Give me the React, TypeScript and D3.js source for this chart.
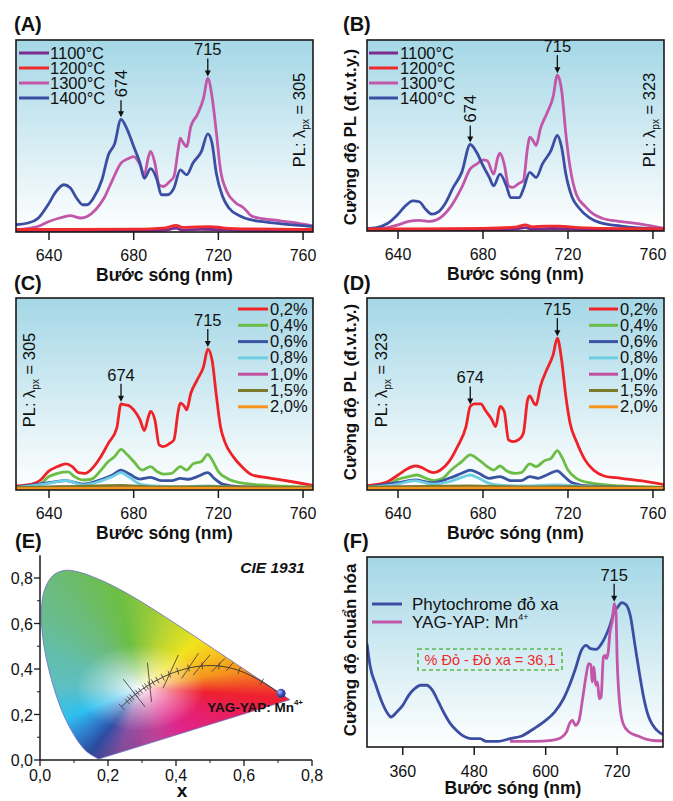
import React, { useMemo } from "react";
import * as d3 from "d3";

const FONT = "'Liberation Sans', Arial, Helvetica, sans-serif";

// ---------------- (A)/(B): annealing temperature series ----------------
const tempNames = ["1100°C", "1200°C", "1300°C", "1400°C"];
const tempColors = ["#7d2a8e", "#ef2b2d", "#c256a9", "#3b4ea3"];

const a1100 = [[624,0.006],[650,0.006],[680,0.007],[695,0.01],[700,0.02],[703,0.01],[712,0.014],[718,0.013],[730,0.008],[766,0.006]];
const a1200 = [[624,0.013],[650,0.013],[680,0.015],[695,0.022],[700,0.035],[703,0.024],[710,0.027],[716,0.028],[722,0.022],[735,0.016],[766,0.013]];
const a1300 = [[624,0.012],[635,0.03],[640,0.055],[645,0.073],[650,0.085],[655,0.073],[658,0.081],[662,0.116],[666,0.177],[670,0.272],[674,0.359],[677,0.38],[680,0.393],[683,0.35],[685,0.298],[687,0.393],[688,0.42],[690,0.359],[692,0.246],[694,0.237],[697,0.263],[699,0.289],[701,0.428],[702,0.489],[703,0.471],[705,0.445],[707,0.55],[710,0.61],[713,0.697],[715,0.8],[717,0.705],[719,0.523],[721,0.324],[724,0.211],[728,0.154],[732,0.125],[736,0.081],[745,0.064],[755,0.05],[766,0.029]];
const a1400 = [[624,0.038],[630,0.047],[635,0.073],[640,0.15],[643,0.206],[647,0.246],[650,0.23],[653,0.177],[656,0.142],[658,0.142],[661,0.177],[665,0.272],[668,0.4],[671,0.46],[674,0.587],[677,0.532],[680,0.445],[683,0.359],[685,0.28],[688,0.33],[691,0.272],[693,0.194],[696,0.194],[699,0.229],[702,0.324],[705,0.298],[708,0.359],[712,0.42],[715,0.511],[717,0.463],[719,0.307],[722,0.185],[725,0.125],[730,0.085],[735,0.064],[740,0.055],[750,0.042],[760,0.033],[766,0.026]];

const b1100 = [[624,0.004],[650,0.004],[680,0.006],[695,0.01],[700,0.018],[703,0.01],[712,0.013],[718,0.012],[730,0.007],[766,0.005]];
const b1200 = [[624,0.011],[650,0.011],[680,0.014],[695,0.02],[700,0.032],[703,0.022],[710,0.026],[716,0.026],[722,0.02],[735,0.014],[766,0.011]];
const b1300 = [[624,0.004],[635,0.018],[640,0.032],[645,0.05],[650,0.056],[655,0.05],[660,0.07],[665,0.13],[670,0.228],[674,0.325],[677,0.35],[680,0.372],[682,0.368],[685,0.298],[687,0.386],[688,0.407],[690,0.35],[692,0.237],[694,0.228],[697,0.25],[699,0.263],[701,0.439],[702,0.491],[704,0.465],[705,0.447],[707,0.535],[710,0.614],[713,0.702],[715,0.816],[717,0.737],[719,0.509],[721,0.333],[724,0.19],[728,0.13],[732,0.088],[736,0.067],[745,0.049],[755,0.035],[766,0.012]];
const b1400 = [[624,0.012],[630,0.018],[635,0.039],[640,0.088],[643,0.126],[647,0.158],[650,0.153],[653,0.114],[656,0.088],[659,0.1],[662,0.14],[666,0.228],[670,0.307],[674,0.453],[677,0.412],[680,0.342],[683,0.28],[685,0.237],[688,0.298],[691,0.237],[693,0.175],[697,0.175],[699,0.219],[702,0.307],[705,0.28],[708,0.351],[712,0.421],[715,0.5],[717,0.439],[719,0.298],[722,0.175],[725,0.123],[730,0.07],[735,0.044],[745,0.026],[766,0.01]];

// ---------------- (C)/(D): Mn concentration series ----------------
const pctNames = ["0,2%", "0,4%", "0,6%", "0,8%", "1,0%", "1,5%", "2,0%"];
const pctColors = ["#ee2227", "#6cbd45", "#3a54a4", "#6dcde2", "#c14fa0", "#7c7a2c", "#f7941e"];

const c02 = [[624,0.021],[632,0.031],[636,0.052],[640,0.1],[644,0.122],[648,0.136],[651,0.122],[654,0.09],[657,0.087],[660,0.108],[664,0.165],[668,0.243],[672,0.322],[674,0.449],[676,0.443],[678,0.438],[680,0.417],[683,0.365],[685,0.31],[687,0.383],[688,0.409],[690,0.365],[692,0.235],[694,0.226],[697,0.243],[699,0.261],[701,0.409],[702,0.452],[704,0.435],[705,0.417],[707,0.504],[710,0.574],[713,0.643],[715,0.734],[717,0.678],[719,0.496],[721,0.33],[723,0.252],[727,0.174],[731,0.122],[736,0.078],[745,0.061],[755,0.043],[766,0.021]];
const c04 = [[624,0.014],[635,0.026],[640,0.07],[644,0.087],[649,0.094],[652,0.07],[656,0.052],[660,0.056],[664,0.096],[668,0.148],[671,0.174],[674,0.212],[677,0.183],[680,0.148],[684,0.104],[688,0.122],[691,0.096],[694,0.083],[698,0.087],[702,0.122],[705,0.104],[708,0.136],[712,0.148],[715,0.186],[717,0.157],[720,0.096],[724,0.061],[730,0.038],[740,0.026],[766,0.014]];
const c06 = [[624,0.014],[640,0.038],[648,0.049],[656,0.031],[664,0.052],[670,0.078],[674,0.104],[678,0.083],[683,0.057],[688,0.066],[693,0.049],[698,0.049],[702,0.061],[706,0.056],[710,0.07],[715,0.09],[718,0.061],[722,0.031],[730,0.017],[766,0.011]];
const c08 = [[624,0.012],[640,0.035],[648,0.049],[656,0.026],[664,0.045],[670,0.07],[674,0.09],[678,0.066],[683,0.031],[690,0.021],[700,0.017],[715,0.021],[730,0.012],[766,0.011]];
const c10 = [[624,0.01],[640,0.014],[648,0.018],[656,0.013],[666,0.016],[674,0.02],[684,0.013],[700,0.012],[715,0.014],[730,0.01],[766,0.009]];
const c15 = [[624,0.013],[648,0.018],[674,0.024],[690,0.016],[715,0.017],[766,0.012]];
const c20 = [[624,0.007],[674,0.009],[715,0.008],[766,0.007]];

const d02 = [[624,0.021],[635,0.043],[640,0.078],[644,0.108],[648,0.125],[651,0.118],[654,0.1],[657,0.09],[660,0.104],[664,0.148],[668,0.226],[672,0.33],[674,0.435],[676,0.449],[679,0.449],[681,0.417],[684,0.37],[686,0.33],[688,0.435],[690,0.409],[692,0.261],[694,0.252],[697,0.264],[699,0.296],[701,0.47],[702,0.49],[704,0.452],[705,0.443],[707,0.539],[710,0.626],[713,0.704],[715,0.791],[717,0.678],[719,0.487],[721,0.348],[724,0.252],[728,0.157],[732,0.104],[737,0.073],[745,0.061],[755,0.047],[766,0.026]];
const d04 = [[624,0.014],[635,0.026],[640,0.056],[645,0.07],[649,0.078],[653,0.061],[657,0.049],[661,0.061],[665,0.104],[670,0.148],[674,0.183],[678,0.157],[682,0.122],[685,0.104],[688,0.125],[691,0.1],[695,0.087],[698,0.09],[702,0.136],[705,0.122],[709,0.153],[712,0.165],[715,0.205],[717,0.174],[720,0.104],[724,0.061],[730,0.038],[745,0.021],[766,0.014]];
const d06 = [[624,0.014],[640,0.038],[648,0.052],[656,0.038],[664,0.061],[670,0.087],[674,0.104],[678,0.087],[683,0.061],[688,0.07],[693,0.049],[698,0.049],[702,0.07],[706,0.061],[710,0.078],[715,0.1],[718,0.073],[722,0.038],[730,0.021],[766,0.011]];
const d08 = [[624,0.012],[640,0.031],[648,0.049],[656,0.031],[664,0.043],[670,0.066],[674,0.078],[678,0.061],[683,0.035],[690,0.024],[700,0.021],[715,0.026],[730,0.017],[766,0.012]];
const d10 = [[624,0.011],[648,0.017],[674,0.019],[700,0.013],[715,0.015],[766,0.01]];
const d15 = [[624,0.014],[648,0.018],[674,0.022],[700,0.016],[715,0.017],[766,0.013]];
const d20 = [[624,0.008],[674,0.009],[715,0.009],[766,0.008]];

const specTicks = [640, 680, 720, 760];

// ---------------- (E): CIE 1931 ----------------
const spectralLocus = [
  [0.1741,0.005],[0.1733,0.0048],[0.1726,0.0048],[0.1714,0.0051],[0.1689,0.0069],[0.1644,0.0109],[0.1566,0.0177],[0.144,0.0297],[0.1355,0.0399],[0.1241,0.0578],[0.1096,0.0868],[0.0913,0.1327],[0.0687,0.2007],[0.0454,0.295],[0.0235,0.4127],[0.0082,0.5384],[0.0039,0.6548],[0.0139,0.7502],[0.0389,0.812],[0.0743,0.8338],[0.1142,0.8262],[0.1547,0.8059],[0.1929,0.7816],[0.2296,0.7543],[0.2658,0.7243],[0.3016,0.6923],[0.3373,0.6589],[0.3731,0.6245],[0.4087,0.5896],[0.4441,0.5547],[0.4788,0.5202],[0.5125,0.4866],[0.5448,0.4544],[0.5752,0.4242],[0.6029,0.3965],[0.627,0.3725],[0.6482,0.3514],[0.6658,0.334],[0.6915,0.3083],[0.7079,0.292],[0.719,0.2809],[0.726,0.274],[0.73,0.27],[0.7334,0.2666],[0.7347,0.2653]
];
const planckLocus = [
  [0.2399,0.2342],[0.2564,0.2576],[0.2637,0.2673],[0.2702,0.2758],[0.2807,0.2883],[0.2869,0.2956],[0.2952,0.3048],[0.3064,0.3166],[0.3135,0.3237],[0.3221,0.3318],[0.3324,0.3410],[0.3451,0.3516],[0.3608,0.3636],[0.3805,0.3768],[0.4053,0.3907],[0.4369,0.4041],[0.477,0.4137],[0.5267,0.4133],[0.5857,0.3931],[0.6528,0.3444],[0.7,0.298]
];
const isotherms = [
  [[0.245,0.355],[0.309,0.234]],
  [[0.316,0.428],[0.328,0.256]],
  [[0.362,0.316],[0.407,0.462]],
  [[0.417,0.359],[0.466,0.469]],
  [[0.451,0.374],[0.5,0.462]],
  [[0.505,0.388],[0.544,0.447]],
  [[0.548,0.392],[0.568,0.428]],
];
const samplePoint = [0.709, 0.293];
const sampleName = "YAG-YAP: Mn";
const cieXTicks = [0, 0.2, 0.4, 0.6, 0.8];
const cieYTicks = [0, 0.2, 0.4, 0.6, 0.8];
const cieMinor = [0.1, 0.3, 0.5, 0.7];
// colour wheel of the printed diagram: hue angle (deg, around the white point) -> colour
const whitePoint = [0.295, 0.318];
const hueAngles = [-6, 14, 35, 51, 75, 99, 117, 150, 180, 212, 232, 243, 258, 285, 303, 335, 354];
const hueColors = ["#ee2030", "#f5921e", "#f7c51f", "#f0e41e", "#b8d432", "#6cbf44", "#6cbb78", "#62beac", "#5ebfc4", "#2ec0f0", "#2f78c8", "#2c4fa5", "#8a4fa3", "#c24096", "#e0268c", "#e81e62", "#ee2030"];

// ---------------- (F): phytochrome vs phosphor ----------------
const phytochrome = [[300,0.544],[305,0.43],[315,0.325],[325,0.237],[335,0.175],[340,0.158],[350,0.184],[360,0.219],[370,0.272],[380,0.307],[390,0.325],[400,0.325],[410,0.298],[420,0.237],[430,0.175],[440,0.123],[450,0.088],[460,0.061],[470,0.047],[480,0.044],[490,0.044],[500,0.03],[520,0.03],[540,0.044],[560,0.058],[580,0.096],[600,0.14],[615,0.184],[630,0.254],[640,0.325],[650,0.412],[660,0.509],[668,0.535],[675,0.518],[685,0.514],[692,0.535],[700,0.579],[708,0.64],[715,0.711],[720,0.732],[728,0.76],[735,0.749],[742,0.693],[750,0.535],[758,0.377],[765,0.254],[772,0.167],[780,0.114],[790,0.079],[798,0.065]];
const yagyap = [[540,0.03],[580,0.03],[610,0.035],[625,0.047],[635,0.079],[640,0.123],[645,0.14],[650,0.114],[656,0.14],[662,0.254],[668,0.377],[672,0.439],[676,0.433],[678,0.342],[681,0.421],[684,0.325],[687,0.342],[690,0.254],[693,0.263],[697,0.474],[700,0.482],[702,0.465],[705,0.5],[708,0.605],[712,0.667],[715,0.754],[718,0.711],[720,0.465],[724,0.237],[730,0.123],[740,0.079],[755,0.058],[770,0.04],[785,0.033],[798,0.033]];
const fNames = ["Phytochrome đỏ xa", "YAG-YAP: Mn"];
const fColors = ["#3b4ea3", "#c256a9"];
const fTicks = [360, 480, 600, 720];
const ratioText = "% Đỏ - Đỏ xa = 36,1";

// ---------------------------------------------------------------
type Series = { name: string; color: string; data: number[][] };

function valueAt(data: number[][], wl: number) {
  const i = d3.bisector((d: number[]) => d[0]).left(data, wl);
  if (i <= 0) return data[0][1];
  if (i >= data.length) return data[data.length - 1][1];
  const a = data[i - 1], b = data[i];
  return a[1] + ((wl - a[0]) / (b[0] - a[0])) * (b[1] - a[1]);
}

function ArrowDown({ x, y1, y2 }: { x: number; y1: number; y2: number }) {
  return (
    <g>
      <line x1={x} x2={x} y1={y1} y2={y2 - 5} stroke="#111" strokeWidth={1.3} />
      <path d={`M${x - 3},${y2 - 6} L${x + 3},${y2 - 6} L${x},${y2} Z`} fill="#111" />
    </g>
  );
}

function PLLabel({ x, y, value }: { x: number; y: number; value: string }) {
  return (
    <text transform={`translate(${x},${y}) rotate(-90)`} textAnchor="middle" fontSize={16.5} fontFamily={FONT} fill="#111">
      PL: λ<tspan fontSize={10} dy={4}>px</tspan>
      <tspan dy={-4}> = {value}</tspan>
    </text>
  );
}

function YTitle({ x, y, text }: { x: number; y: number; text: string }) {
  return (
    <text transform={`translate(${x},${y}) rotate(-90)`} textAnchor="middle" fontSize={17} fontWeight="bold" fontFamily={FONT} fill="#111">
      {text}
    </text>
  );
}

interface PanelProps {
  id: string;
  left: number; top: number; right: number; bottom: number;
  domain: [number, number];
  ticks: number[];
  series: Series[];
  order: number[];
  legend: { x1: number; x2: number; tx: number; y0: number; dy: number };
  annots: { wl: number; s: number; text: string; rotated?: boolean }[];
  pl: { x: number; y: number; value: string };
  yTitle?: { x: number; y: number; text: string };
  label: { x: number; y: number; text: string };
}

function SpecPanel(p: PanelProps) {
  const xs = d3.scaleLinear().domain(p.domain).range([p.left, p.right]);
  const ys = d3.scaleLinear().domain([0, 1]).range([p.bottom, p.top]);
  const line = d3.line<number[]>().x(d => xs(d[0])).y(d => ys(d[1])).curve(d3.curveMonotoneX);
  const cx = (p.left + p.right) / 2;
  return (
    <g>
      <defs>
        <clipPath id={`clip-${p.id}`}>
          <rect x={p.left} y={p.top} width={p.right - p.left} height={p.bottom - p.top} />
        </clipPath>
      </defs>
      <rect x={p.left} y={p.top} width={p.right - p.left} height={p.bottom - p.top} fill="url(#bgGrad)" />
      <g clipPath={`url(#clip-${p.id})`}>
        {p.order.map(i => (
          <path key={i} d={line(p.series[i].data) || ""} fill="none" stroke={p.series[i].color} strokeWidth={2.8} strokeLinejoin="round" />
        ))}
      </g>
      <rect x={p.left} y={p.top} width={p.right - p.left} height={p.bottom - p.top} fill="none" stroke="#1a1a1a" strokeWidth={1.6} />
      {p.ticks.map(t => (
        <g key={t}>
          <line x1={xs(t)} x2={xs(t)} y1={p.bottom} y2={p.bottom + 8} stroke="#1a1a1a" strokeWidth={1.5} />
          <text x={xs(t)} y={p.bottom + 29} textAnchor="middle" fontSize={16} fontFamily={FONT} fill="#111">{t}</text>
        </g>
      ))}
      <text x={cx} y={p.bottom + 49} textAnchor="middle" fontSize={17.5} fontWeight="bold" fontFamily={FONT} fill="#111">Bước sóng (nm)</text>
      {p.series.map((s, i) => {
        const y = p.legend.y0 + i * p.legend.dy;
        return (
          <g key={s.name}>
            <line x1={p.legend.x1} x2={p.legend.x2} y1={y} y2={y} stroke={s.color} strokeWidth={3} />
            <text x={p.legend.tx} y={y + 5.5} fontSize={16.5} fontFamily={FONT} fill="#111">{s.name}</text>
          </g>
        );
      })}
      {p.annots.map(a => {
        const x = xs(a.wl);
        const tip = ys(valueAt(p.series[a.s].data, a.wl)) - 2;
        if (a.rotated) {
          return (
            <g key={a.text}>
              <ArrowDown x={x} y1={tip - 17} y2={tip} />
              <text transform={`translate(${x + 6},${tip - 20}) rotate(-90)`} fontSize={16.5} fontFamily={FONT} fill="#111">{a.text}</text>
            </g>
          );
        }
        return (
          <g key={a.text}>
            <ArrowDown x={x} y1={tip - 18} y2={tip} />
            <text x={x} y={tip - 21} textAnchor="middle" fontSize={16.5} fontFamily={FONT} fill="#111">{a.text}</text>
          </g>
        );
      })}
      <PLLabel x={p.pl.x} y={p.pl.y} value={p.pl.value} />
      {p.yTitle && <YTitle x={p.yTitle.x} y={p.yTitle.y} text={p.yTitle.text} />}
      <text x={p.label.x} y={p.label.y} fontSize={20} fontWeight="bold" fontFamily={FONT} fill="#111">{p.label.text}</text>
    </g>
  );
}

const hueScale = d3.scaleLinear<string>().domain(hueAngles).range(hueColors).interpolate(d3.interpolateRgb).clamp(true);

function diagramColor(x: number, y: number): [number, number, number] {
  const dx = x - whitePoint[0], dy = y - whitePoint[1];
  let ang = (Math.atan2(dy, dx) * 180) / Math.PI;
  if (ang < -6) ang += 360;
  const c = d3.rgb(hueScale(ang));
  const dist = Math.hypot(dx, dy);
  const t = Math.pow(Math.min(1, dist / 0.19), 0.8);
  const dark = y < 0.12 && x < 0.3 ? 1 - (0.12 - y) * 0.8 : 1;
  return [
    (255 + (c.r - 255) * t) * dark,
    (255 + (c.g - 255) * t) * dark,
    (255 + (c.b - 255) * t) * dark,
  ];
}

function CIEPanel() {
  const ex = d3.scaleLinear().domain([0, 0.8]).range([40, 312]);
  const ey = d3.scaleLinear().domain([0, 0.8]).range([760, 578]);
  const imgBox = { x0: ex(0), x1: ex(0.76), y0: ey(0.86), y1: ey(0) };
  const href = useMemo(() => {
    const scale = 2;
    const w = Math.round((imgBox.x1 - imgBox.x0) * scale);
    const h = Math.round((imgBox.y1 - imgBox.y0) * scale);
    const canvas = document.createElement("canvas");
    canvas.width = w; canvas.height = h;
    const ctx = canvas.getContext("2d");
    if (!ctx) return "";
    const img = ctx.createImageData(w, h);
    for (let j = 0; j < h; j++) {
      const yv = ey.invert(imgBox.y0 + (j + 0.5) / scale);
      for (let i = 0; i < w; i++) {
        const xv = ex.invert(imgBox.x0 + (i + 0.5) / scale);
        const k = (j * w + i) * 4;
        const [r, g, b] = diagramColor(xv, yv);
        img.data[k] = r; img.data[k + 1] = g; img.data[k + 2] = b; img.data[k + 3] = 255;
      }
    }
    ctx.putImageData(img, 0, 0);
    return canvas.toDataURL();
  }, []);
  const locusPath = (d3.line<number[]>().x(d => ex(d[0])).y(d => ey(d[1])).curve(d3.curveCatmullRom)(spectralLocus) || "") + "Z";
  const planckPath = d3.line<number[]>().x(d => ex(d[0])).y(d => ey(d[1])).curve(d3.curveCatmullRom)(planckLocus) || "";
  const ticksShort = planckLocus.map((pt, i) => {
    if (i === planckLocus.length - 1) return null;
    const a = planckLocus[Math.max(i - 1, 0)], b = planckLocus[Math.min(i + 1, planckLocus.length - 1)];
    const dx = ex(b[0]) - ex(a[0]), dy = ey(b[1]) - ey(a[1]);
    const len = Math.hypot(dx, dy) || 1;
    const nx = -dy / len, ny = dx / len;
    const hl = i === 0 ? 4 : 3.5;
    const px = ex(pt[0]), py = ey(pt[1]);
    return <line key={i} x1={px - nx * hl} y1={py - ny * hl} x2={px + nx * hl} y2={py + ny * hl} stroke="#333" strokeWidth={0.8} />;
  });
  return (
    <g>
      <defs>
        <clipPath id="locusClip"><path d={locusPath} /></clipPath>
        <radialGradient id="dotGrad" cx="0.35" cy="0.35" r="0.7">
          <stop offset="0" stopColor="#b8c4ff" />
          <stop offset="0.5" stopColor="#3f55c0" />
          <stop offset="1" stopColor="#1d2a80" />
        </radialGradient>
      </defs>
      {href && (
        <image href={href} x={imgBox.x0} y={imgBox.y0} width={imgBox.x1 - imgBox.x0} height={imgBox.y1 - imgBox.y0} preserveAspectRatio="none" clipPath="url(#locusClip)" />
      )}
      <path d={locusPath} fill="none" stroke="#6c6cc0" strokeWidth={0.8} />
      <path d={planckPath} fill="none" stroke="#333" strokeWidth={0.9} />
      {ticksShort}
      {isotherms.map((s, i) => (
        <line key={i} x1={ex(s[0][0])} y1={ey(s[0][1])} x2={ex(s[1][0])} y2={ey(s[1][1])} stroke="#333" strokeWidth={0.8} />
      ))}
      <circle cx={ex(samplePoint[0])} cy={ey(samplePoint[1])} r={4.5} fill="url(#dotGrad)" />
      <text x={ex(samplePoint[0]) + 22} y={ey(samplePoint[1]) + 19} textAnchor="end" fontSize={13.5} fontWeight="bold" fontFamily={FONT} fill="#111">
        {sampleName}<tspan fontSize={8} dy={-7}>4+</tspan>
      </text>
      <text x={305} y={573} textAnchor="end" fontSize={15.5} fontWeight="bold" fontStyle="italic" fontFamily={FONT} fill="#111">CIE 1931</text>
      <line x1={ex(0)} x2={ex(0)} y1={ey(0.9)} y2={ey(0)} stroke="#1a1a1a" strokeWidth={1.5} />
      <line x1={ex(0)} x2={ex(0.8)} y1={ey(0)} y2={ey(0)} stroke="#1a1a1a" strokeWidth={1.5} />
      {cieXTicks.map(t => (
        <g key={"x" + t}>
          <line x1={ex(t)} x2={ex(t)} y1={ey(0)} y2={ey(0) + 6} stroke="#1a1a1a" strokeWidth={1.3} />
          <text x={ex(t)} y={781} textAnchor="middle" fontSize={16} fontFamily={FONT} fill="#111">{t.toFixed(1).replace(".", ",")}</text>
        </g>
      ))}
      {cieYTicks.map(t => (
        <g key={"y" + t}>
          <line x1={ex(0) - 6} x2={ex(0)} y1={ey(t)} y2={ey(t)} stroke="#1a1a1a" strokeWidth={1.3} />
          <text x={33} y={ey(t) + 6} textAnchor="end" fontSize={16} fontFamily={FONT} fill="#111">{t.toFixed(1).replace(".", ",")}</text>
        </g>
      ))}
      {cieMinor.map(t => (
        <g key={"m" + t}>
          <line x1={ex(t)} x2={ex(t)} y1={ey(0)} y2={ey(0) + 3} stroke="#1a1a1a" strokeWidth={1} />
          <line x1={ex(0) - 3} x2={ex(0)} y1={ey(t)} y2={ey(t)} stroke="#1a1a1a" strokeWidth={1} />
        </g>
      ))}
      <text x={182} y={797} textAnchor="middle" fontSize={19} fontWeight="bold" fontFamily={FONT} fill="#111">x</text>
      <text x={15} y={548} fontSize={20} fontWeight="bold" fontFamily={FONT} fill="#111">(E)</text>
    </g>
  );
}

function FPanel() {
  const left = 367, right = 663, top = 557, bottom = 747;
  const xs = d3.scaleLinear().domain([300, 797]).range([left, right]);
  const ys = d3.scaleLinear().domain([0, 1]).range([bottom, top]);
  const line = d3.line<number[]>().x(d => xs(d[0])).y(d => ys(d[1])).curve(d3.curveMonotoneX);
  const series = [phytochrome, yagyap];
  const tip = ys(valueAt(yagyap, 715)) - 2;
  return (
    <g>
      <defs>
        <clipPath id="clip-F"><rect x={left} y={top} width={right - left} height={bottom - top} /></clipPath>
      </defs>
      <rect x={left} y={top} width={right - left} height={bottom - top} fill="url(#bgGrad)" />
      <g clipPath="url(#clip-F)">
        {series.map((s, i) => (
          <path key={i} d={line(s) || ""} fill="none" stroke={fColors[i]} strokeWidth={2.8} strokeLinejoin="round" />
        ))}
      </g>
      <rect x={left} y={top} width={right - left} height={bottom - top} fill="none" stroke="#1a1a1a" strokeWidth={1.6} />
      {fTicks.map(t => (
        <g key={t}>
          <line x1={xs(t)} x2={xs(t)} y1={bottom} y2={bottom + 8} stroke="#1a1a1a" strokeWidth={1.5} />
          <text x={xs(t)} y={bottom + 30} textAnchor="middle" fontSize={16} fontFamily={FONT} fill="#111">{t}</text>
        </g>
      ))}
      <text x={(left + right) / 2 - 2} y={bottom + 47} textAnchor="middle" fontSize={17.5} fontWeight="bold" fontFamily={FONT} fill="#111">Bước sóng (nm)</text>
      {fNames.map((n, i) => {
        const y = 604 + i * 18;
        return (
          <g key={n}>
            <line x1={372} x2={402} y1={y} y2={y} stroke={fColors[i]} strokeWidth={3} />
            <text x={412} y={y + 6} fontSize={17} fontFamily={FONT} fill="#111">
              {n}{i === 1 && <tspan fontSize={9} dy={-8}>4+</tspan>}
            </text>
          </g>
        );
      })}
      <rect x={418} y={649} width={144} height={21} fill="none" stroke="#5cb848" strokeWidth={1.6} strokeDasharray="4,3" />
      <text x={490} y={665} textAnchor="middle" fontSize={14.5} fontFamily={FONT} fill="#ee2a2a">{ratioText}</text>
      <ArrowDown x={xs(715)} y1={tip - 18} y2={tip} />
      <text x={xs(715)} y={tip - 21} textAnchor="middle" fontSize={16.5} fontFamily={FONT} fill="#111">715</text>
      <YTitle x={356} y={650} text="Cường độ chuẩn hóa" />
      <text x={343} y={548} fontSize={20} fontWeight="bold" fontFamily={FONT} fill="#111">(F)</text>
    </g>
  );
}

export default function App() {
  const tA: Series[] = [a1100, a1200, a1300, a1400].map((d, i) => ({ name: tempNames[i], color: tempColors[i], data: d }));
  const tB: Series[] = [b1100, b1200, b1300, b1400].map((d, i) => ({ name: tempNames[i], color: tempColors[i], data: d }));
  const sC: Series[] = [c02, c04, c06, c08, c10, c15, c20].map((d, i) => ({ name: pctNames[i], color: pctColors[i], data: d }));
  const sD: Series[] = [d02, d04, d06, d08, d10, d15, d20].map((d, i) => ({ name: pctNames[i], color: pctColors[i], data: d }));
  const tOrder = [2, 3, 0, 1];
  const pOrder = [0, 1, 2, 3, 4, 5, 6];
  const yT = "Cường độ PL (đ.v.t.y.)";
  return (
    <svg width={673} height={801} style={{ display: "block", position: "absolute", left: 0, top: 0 }}>
      <defs>
        <linearGradient id="bgGrad" x1="0" y1="0" x2="0" y2="1">
          <stop offset="0" stopColor="#a5d7e6" />
          <stop offset="1" stopColor="#ffffff" />
        </linearGradient>
      </defs>
      <rect width={673} height={801} fill="#fff" />
      <SpecPanel id="A" left={16} top={40} right={313} bottom={232} domain={[624.4, 764.7]} ticks={specTicks}
        series={tA} order={tOrder} legend={{ x1: 19, x2: 49, tx: 50, y0: 53, dy: 15 }}
        annots={[{ wl: 674, s: 3, text: "674", rotated: true }, { wl: 715, s: 2, text: "715" }]}
        pl={{ x: 305, y: 120, value: "305" }} label={{ x: 14, y: 31, text: "(A)" }} />
      <SpecPanel id="B" left={367} top={40} right={664} bottom={231} domain={[625.4, 765.2]} ticks={specTicks}
        series={tB} order={tOrder} legend={{ x1: 369, x2: 398, tx: 400, y0: 53, dy: 15 }}
        annots={[{ wl: 674, s: 3, text: "674", rotated: true }, { wl: 715, s: 2, text: "715" }]}
        pl={{ x: 655, y: 120, value: "323" }} yTitle={{ x: 356, y: 137, text: yT }} label={{ x: 343, y: 31, text: "(B)" }} />
      <SpecPanel id="C" left={16} top={298} right={313} bottom={490} domain={[624.4, 764.7]} ticks={specTicks}
        series={sC} order={pOrder} legend={{ x1: 238, x2: 268, tx: 270, y0: 309, dy: 16.3 }}
        annots={[{ wl: 674, s: 0, text: "674" }, { wl: 715, s: 0, text: "715" }]}
        pl={{ x: 35, y: 380, value: "305" }} label={{ x: 14, y: 290, text: "(C)" }} />
      <SpecPanel id="D" left={367} top={298} right={664} bottom={490} domain={[625.4, 765.2]} ticks={specTicks}
        series={sD} order={pOrder} legend={{ x1: 589, x2: 618, tx: 620, y0: 309, dy: 16.3 }}
        annots={[{ wl: 674, s: 0, text: "674" }, { wl: 715, s: 0, text: "715" }]}
        pl={{ x: 387, y: 380, value: "323" }} yTitle={{ x: 356, y: 392, text: yT }} label={{ x: 343, y: 290, text: "(D)" }} />
      <CIEPanel />
      <FPanel />
    </svg>
  );
}
